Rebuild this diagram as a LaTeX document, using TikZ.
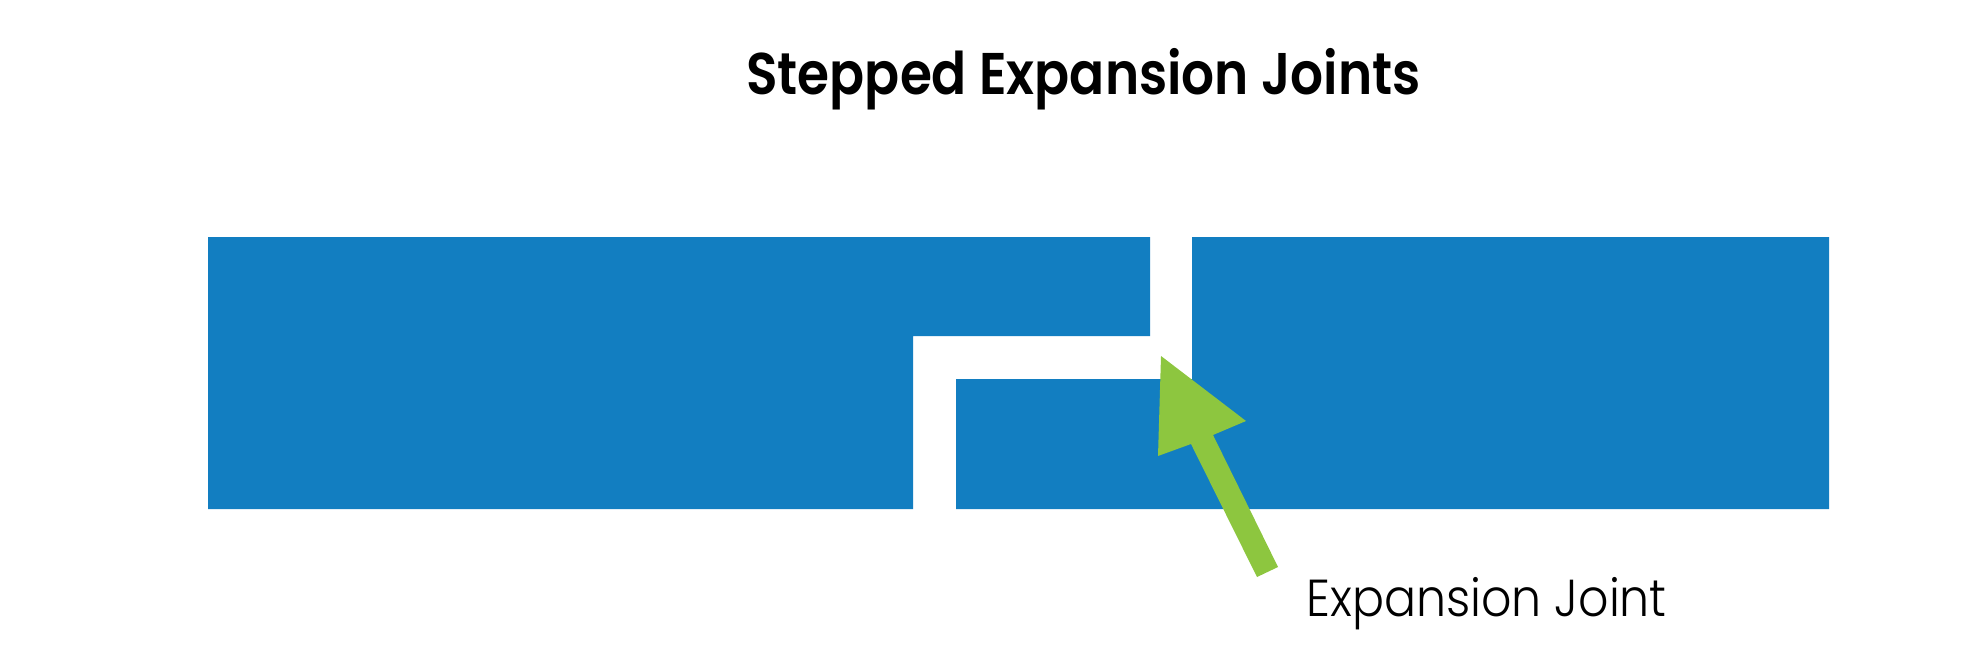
\documentclass[tikz,border=0pt]{standalone}
\usepackage{fontspec}
\setmainfont{Poppins}
\newfontfamily\titlefont{Poppins}[UprightFont={* SemiBold}]
\newfontfamily\lightfont{Poppins}[UprightFont={* Light}]
\definecolor{slab}{HTML}{127EC1}
\definecolor{arrowgreen}{HTML}{8DC63F}
\begin{document}
\begin{tikzpicture}[x=0.5bp,y=-0.5bp,
  slabfill/.style={fill=slab,draw=none},
  arrowfill/.style={fill=arrowgreen,draw=none}]
\useasboundingbox (0,0) rectangle (1984,664);
\fill[white] (0,0) rectangle (1984,664);
% left slab
\path[slabfill] (208,237) -- (1150,237) -- (1150,336) -- (913,336) -- (913,509) -- (208,509) -- cycle;
% right slab
\path[slabfill] (1192,237) -- (1829,237) -- (1829,509) -- (956,509) -- (956,379) -- (1192,379) -- cycle;
% arrow
\path[arrowfill] (1161,356) -- (1246,421) -- (1213,435) -- (1278,567) -- (1257,577) -- (1191,444) -- (1158,456) -- cycle;
\node[anchor=base west,inner sep=0pt,xscale=0.88,font=\titlefont\fontsize{29.4bp}{34bp}\selectfont] (title) at (746,95) {Stepped Expansion Joints};
\node[anchor=base west,inner sep=0pt,xscale=0.913,font=\lightfont\fontsize{26bp}{30bp}\selectfont] (label) at (1306,616) {Expansion Joint};
\end{tikzpicture}
\end{document}
